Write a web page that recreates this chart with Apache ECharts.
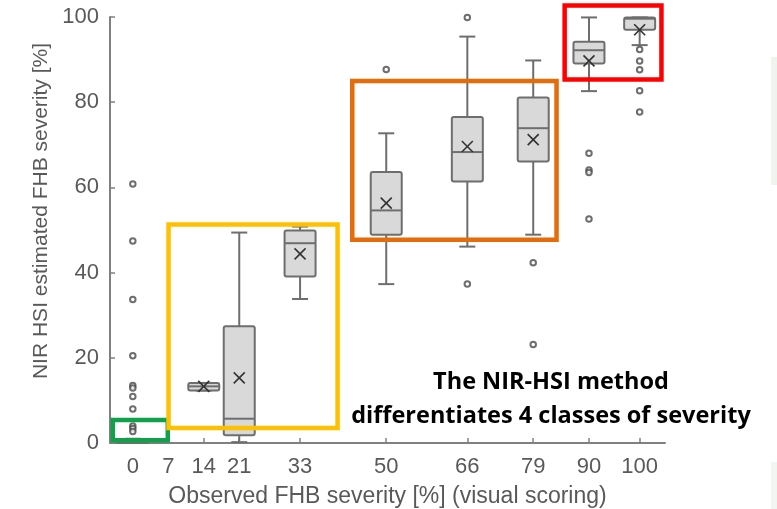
<!DOCTYPE html>
<html><head><meta charset="utf-8">
<script src="https://cdn.jsdelivr.net/npm/echarts@6/dist/echarts.min.js"></script>
<style>html,body{margin:0;padding:0;background:#fff}#c{width:777px;height:509px}</style>
</head><body><div id="c"></div>
<script>
// observed severity classes (x positions) and tick labels
const positions = [0, 14, 21, 33, 50, 66, 79, 90, 100];
const tickValues = [0, 7, 14, 21, 33, 50, 66, 79, 90, 100];
const yTicks = [0, 20, 40, 60, 80, 100];
// box statistics (NIR-HSI estimated severity, %)
const whiskerLow  = [0,   12.3, 0.2,  33.8, 37.3, 46.1, 48.9, 82.6, 93.4];
const q1          = [0,   12.3, 1.8,  39.1, 48.9, 61.4, 66.1, 89.1, 97.0];
const medians     = [0,   13.3, 5.7,  46.9, 54.6, 68.3, 73.9, 92.2, 99.6];
const q3          = [0.4, 14.1, 27.4, 49.9, 63.6, 76.5, 81.1, 94.2, 99.9];
const whiskerHigh = [1.0, 14.1, 49.4, 50.8, 72.7, 95.4, 89.8, 99.9, 99.9];
const means       = [null, 13.3, 15.3, 44.4, 56.3, 69.6, 71.2, 89.7, 97.0];
const outliers = [
  [60.8, 47.4, 33.7, 20.5, 13.5, 12.9, 10.9, 8.0, 4.0, 3.4, 2.7],
  [], [], [], [87.7], [99.9, 37.3], [42.3, 23.1],
  [68.0, 64.1, 63.5, 52.6],
  [92.4, 89.7, 87.6, 82.7, 77.7]
];
// highlighted severity classes (data units)
const regionX1 = [-3.95, 7.05, 43.3, 85.2];
const regionX2 = [6.9, 40.4, 83.6, 104.3];
const regionY1 = [0.65, 3.5, 47.7, 85.3];
const regionY2 = [5.4, 51.3, 85.0, 102.7];
const regionColors = ['#12a14b', '#ffc000', '#e46c0a', '#ff0000'];
const noteLines = ['The NIR-HSI method', 'differentiates 4 classes of severity'];

const boxData = positions.map((x, i) => [x, whiskerLow[i], q1[i], medians[i], q3[i], whiskerHigh[i], means[i] == null ? '-' : means[i]]);
const outlierData = [];
positions.forEach((x, i) => outliers[i].forEach(v => outlierData.push([x, v])));
const regionData = regionX1.map((x, i) => [x, regionY1[i], regionX2[i], regionY2[i], i]);

const gray = '#6e6e6e';
function renderBox(params, api) {
  const x = api.value(0);
  const p = k => api.coord([x, api.value(k)]);
  const lo = p(1), b1 = p(2), md = p(3), b3 = p(4), hi = p(5);
  const cx = lo[0];
  const bw = 31, cw = 16;
  const ls = { stroke: gray, lineWidth: 2 };
  const ch = [
    { type: 'line', shape: { x1: cx, y1: hi[1], x2: cx, y2: b3[1] }, style: ls },
    { type: 'line', shape: { x1: cx, y1: b1[1], x2: cx, y2: lo[1] }, style: ls },
    { type: 'line', shape: { x1: cx - cw / 2, y1: hi[1], x2: cx + cw / 2, y2: hi[1] }, style: ls },
    { type: 'line', shape: { x1: cx - cw / 2, y1: lo[1], x2: cx + cw / 2, y2: lo[1] }, style: ls },
    { type: 'rect', shape: { x: cx - bw / 2, y: b3[1], width: bw, height: b1[1] - b3[1], r: 2 },
      style: { fill: '#d9d9d9', stroke: gray, lineWidth: 2 } },
    { type: 'line', shape: { x1: cx - bw / 2, y1: md[1], x2: cx + bw / 2, y2: md[1] }, style: ls }
  ];
  const mv = api.value(6);
  if (mv != null && !isNaN(mv)) {
    const m = api.coord([x, mv]);
    const s = 5.5;
    const xs = { stroke: '#333', lineWidth: 1.6 };
    ch.push({ type: 'line', shape: { x1: m[0] - s, y1: m[1] - s, x2: m[0] + s, y2: m[1] + s }, style: xs });
    ch.push({ type: 'line', shape: { x1: m[0] - s, y1: m[1] + s, x2: m[0] + s, y2: m[1] - s }, style: xs });
  }
  return { type: 'group', children: ch };
}
function renderRegion(params, api) {
  const a = api.coord([api.value(0), api.value(1)]);
  const b = api.coord([api.value(2), api.value(3)]);
  return {
    type: 'rect',
    shape: { x: Math.min(a[0], b[0]), y: Math.min(a[1], b[1]), width: Math.abs(b[0] - a[0]), height: Math.abs(b[1] - a[1]) },
    style: { fill: 'none', stroke: regionColors[api.value(4)], lineWidth: 4.5 }
  };
}

const chart = echarts.init(document.getElementById('c'));
const axisFont = 'Liberation Sans, Arial, sans-serif';
const noteFont = { fontFamily: 'Open Sans, sans-serif', fontWeight: 'bold', fontSize: 23.5, fill: '#000', align: 'center', verticalAlign: 'middle' };
chart.setOption({
  animation: false,
  backgroundColor: '#fff',
  grid: { left: 110, right: 112, top: 17, bottom: 66, containLabel: false, outerBoundsMode: 'none' },
  xAxis: {
    type: 'value', min: -4.5, max: 105,
    name: 'Observed FHB severity [%] (visual scoring)',
    nameLocation: 'middle', nameGap: 42,
    nameTextStyle: { fontFamily: axisFont, fontSize: 23, color: '#595959' },
    axisLine: { show: true, onZero: false, lineStyle: { color: '#808080', width: 2 } },
    axisTick: { show: true, inside: true, length: 5, customValues: tickValues, lineStyle: { color: '#808080', width: 1.5 } },
    axisLabel: { customValues: tickValues, fontFamily: axisFont, fontSize: 22, color: '#595959', margin: 13 },
    splitLine: { show: false }
  },
  yAxis: {
    type: 'value', min: 0, max: 100, interval: 20,
    name: 'NIR HSI estimated FHB severity [%]',
    nameLocation: 'middle', nameGap: 57,
    nameTextStyle: { fontFamily: axisFont, fontSize: 21, color: '#595959', padding: [0, 0, 0, 38] },
    axisLine: { show: true, onZero: false, lineStyle: { color: '#808080', width: 2 } },
    axisTick: { show: true, inside: true, length: 5, lineStyle: { color: '#808080', width: 1.5 } },
    axisLabel: { fontFamily: axisFont, fontSize: 22, color: '#595959', margin: 11,
      formatter: v => (yTicks.indexOf(v) >= 0 ? String(v) : '') },
    splitLine: { show: false }
  },
  series: [
    { type: 'custom', name: 'boxes', renderItem: renderBox, data: boxData, z: 2,
      encode: { x: 0, y: [1, 2, 3, 4, 5] } },
    { type: 'scatter', name: 'outliers', data: outlierData, symbol: 'emptyCircle', symbolSize: 5.5, z: 3,
      itemStyle: { color: '#4a4a4a', borderColor: '#4a4a4a', borderWidth: 1.4 } },
    { type: 'custom', name: 'classes', renderItem: renderRegion, data: regionData, z: 5, clip: false,
      encode: { x: [0, 2], y: [1, 3] } }
  ],
  graphic: [
    { type: 'rect', left: 771, top: 57, shape: { width: 6, height: 128 }, style: { fill: '#eef5ee' }, z: 0 },
    { type: 'rect', left: 771, top: 462, shape: { width: 6, height: 47 }, style: { fill: '#f0f6f0' }, z: 0 },
    { type: 'text', x: 551, y: 382, style: Object.assign({ text: noteLines[0] }, noteFont), z: 10 },
    { type: 'text', x: 551, y: 416, style: Object.assign({ text: noteLines[1] }, noteFont), z: 10 }
  ]
});
</script>
</body></html>
